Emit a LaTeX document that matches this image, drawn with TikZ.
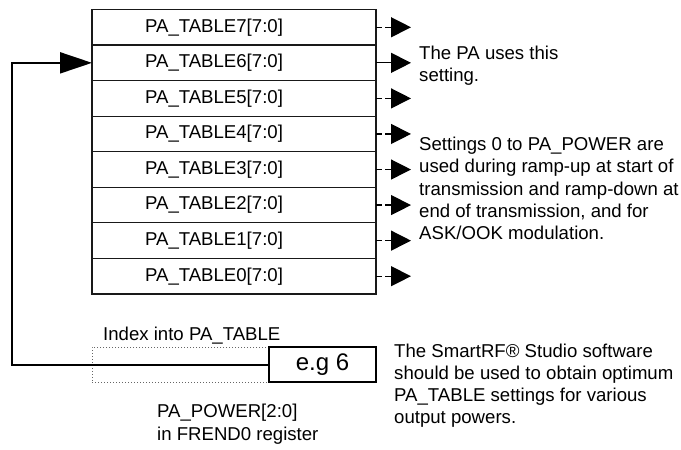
\documentclass[tikz,border=0pt]{standalone}
\usepackage{fontspec}
\setmainfont{Liberation Sans}
\usetikzlibrary{arrows.meta}
\begin{document}
\begin{tikzpicture}[x=1pt,y=-1pt,
  rowbox/.style={draw=black!90,line width=1.2pt,minimum width=284pt,minimum height=35.56pt,inner sep=0pt,outer sep=0pt},
  txt/.style={font=\fontsize{18.6}{22.3}\selectfont,inner sep=0pt,align=left},
  outarrow/.style={draw=black,line width=1.3pt,-{Triangle[length=20pt,width=20pt]}},
  dashedarrow/.style={outarrow,dash pattern=on 6pt off 3pt},
  idxline/.style={draw=black,line width=2pt,-{Triangle[length=32pt,width=21pt]}}
]
\useasboundingbox (0,0) rectangle (681,450);
% table rows
\foreach \k/\yy in {7/27.28,6/62.84,5/98.40,4/133.96,3/169.52,2/205.08,1/240.64,0/276.20}{
  \node[rowbox] (r\k) at (234,\yy) {};
  \node[txt,anchor=center] (t\k) at (214,\yy) {PA\_TABLE\k[7:0]};
  \coordinate (o\k) at (411,\yy);
}
% outgoing arrows
\foreach \k in {7,5,4,3,2,1,0}{
  \draw[dashedarrow] (r\k.east) -- (o\k);
}
\draw[outarrow] (r6.east) -- (o6);
% PA_POWER register
\node[draw=black!60,dotted,line width=1pt,minimum width=284pt,minimum height=35pt,inner sep=0pt] (reg) at (234,364.5) {};
\node[draw=black,line width=1.2pt,minimum width=107pt,minimum height=35pt,inner sep=0pt,font=\fontsize{24}{28}\selectfont] (eg) at (322.5,364.5) {e.g 6};
\coordinate (c1) at (12,364.5);
\coordinate (c2) at (12,62.84);
\draw[idxline] (eg.west) -- (c1) -- (c2) -- (r6.west);
% texts (base anchor = baseline of the last line)
\node[txt,anchor=base west] (pa) at (419,81.6) {The PA uses this\\setting.};
\node[txt,anchor=base west] (ramp) at (419,239.7) {Settings 0 to PA\_POWER are\\used during ramp-up at start of\\transmission and ramp-down at\\end of transmission, and for\\ASK/OOK modulation.};
\node[txt,anchor=base west] (idx) at (103,340) {Index into PA\_TABLE};
\node[txt,anchor=base west] (smart) at (394,423.9) {The SmartRF® Studio software\\should be used to obtain optimum\\PA\_TABLE settings for various\\output powers.};
\node[txt,anchor=base west] (papow) at (157,440) {PA\_POWER[2:0]\\in FREND0 register};
\end{tikzpicture}
\end{document}
